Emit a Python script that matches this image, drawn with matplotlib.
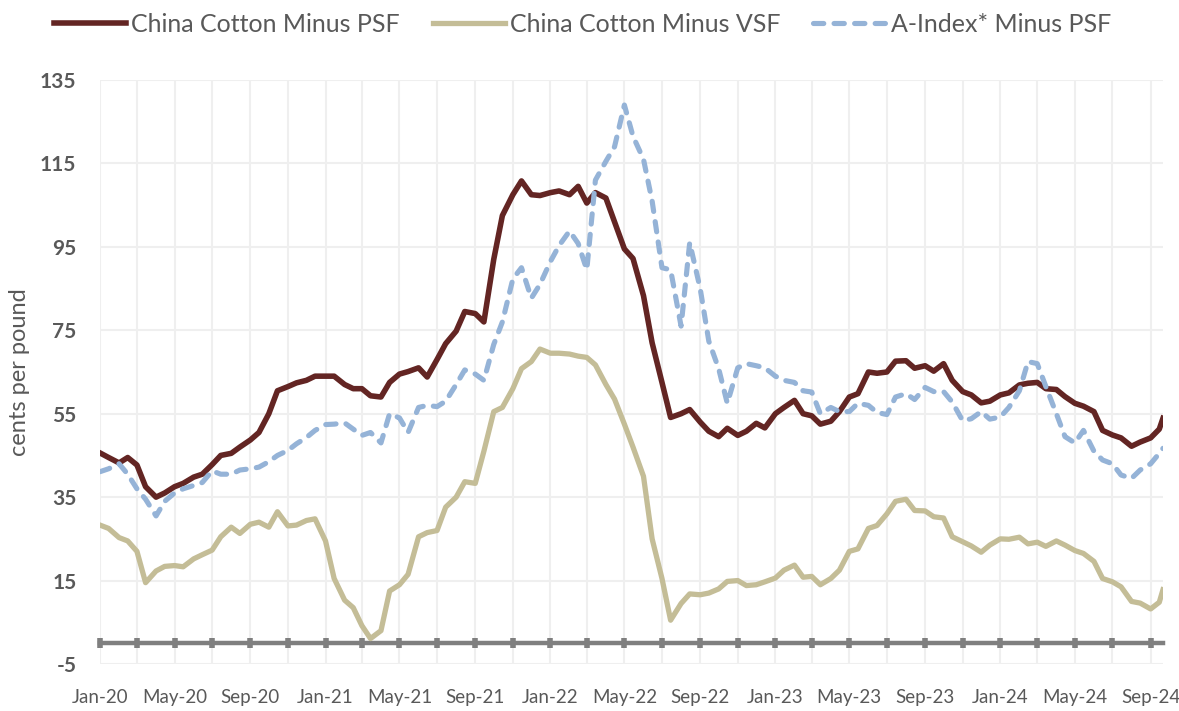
import pandas as pd
import matplotlib.pyplot as plt
import matplotlib.dates as mdates

plt.rcParams['font.family'] = ['Lato', 'DejaVu Sans']
plt.rcParams['axes.unicode_minus'] = False

# semi-monthly readings, Jan 2020 - Sep 2024
dates = list(pd.date_range('2020-01-01', '2024-09-15', freq='SMS')) + [pd.Timestamp('2024-09-21')]

psf = [45.6, 44.5, 43.2, 44.5, 42.7, 37.5, 35.0, 36.0, 37.5, 38.3,
       39.8, 40.5, 42.8, 45.0, 45.5, 47.0, 48.7, 50.5, 55.0, 60.5,
       61.5, 62.4, 63.0, 64.0, 64.0, 64.0, 62.0, 61.0, 61.0, 59.3,
       59.0, 62.5, 64.5, 65.1, 66.0, 63.8, 68.0, 71.8, 74.8, 79.5,
       79.0, 77.0, 92.0, 102.5, 107.5, 110.8, 107.5, 107.3, 108.0, 108.4,
       107.5, 109.5, 105.5, 108.0, 106.7, 101.0, 94.5, 92.2, 83.3, 72.0,
       62.5, 54.1, 55.0, 56.0, 53.0, 50.8, 49.5, 51.5, 49.8, 50.8,
       52.7, 51.6, 55.0, 56.5, 58.2, 55.0, 54.5, 52.5, 53.2, 55.5,
       59.0, 59.8, 65.0, 64.7, 65.0, 67.6, 67.7, 65.9, 66.5, 65.2,
       67.0, 63.0, 60.3, 59.5, 57.6, 58.0, 59.5, 60.0, 61.9, 62.3,
       62.5, 61.0, 60.8, 59.1, 57.5, 56.8, 55.5, 51.0, 49.9, 49.2,
       47.2, 48.2, 49.2, 51.3, 53.9]

vsf = [28.3, 27.5, 25.3, 24.5, 22.0, 14.5, 17.3, 18.4, 18.6, 18.3,
       20.2, 21.2, 22.3, 25.5, 27.8, 26.3, 28.5, 29.0, 27.8, 31.5,
       28.1, 28.3, 29.4, 29.8, 24.5, 15.5, 10.3, 8.5, 4.2, 1.1,
       3.0, 12.5, 14.0, 16.5, 25.5, 26.5, 27.0, 32.6, 35.0, 38.7,
       38.3, 46.0, 55.5, 56.5, 61.0, 65.8, 67.5, 70.5, 69.5, 69.5,
       69.3, 68.8, 68.5, 66.7, 62.0, 58.5, 52.5, 47.0, 40.0, 25.0,
       15.5, 5.5, 9.5, 11.8, 11.6, 12.0, 13.0, 14.8, 15.0, 13.8,
       14.0, 14.7, 15.6, 17.5, 18.7, 15.8, 16.0, 14.0, 15.5, 17.5,
       22.0, 22.6, 27.5, 28.2, 31.0, 34.0, 34.5, 31.8, 31.7, 30.3,
       30.0, 25.5, 24.3, 23.3, 21.8, 23.5, 25.0, 24.9, 25.4, 23.8,
       24.2, 23.2, 24.5, 23.5, 22.2, 21.5, 19.6, 15.5, 14.7, 13.5,
       10.0, 9.6, 8.2, 9.8, 12.8]

a_index = [41.1, 41.8, 43.0, 40.5, 37.0, 34.5, 30.5, 34.0, 36.0, 37.0,
           37.8, 38.5, 41.3, 40.5, 40.5, 41.5, 41.8, 42.2, 43.5, 45.0,
           46.2, 47.8, 49.3, 51.0, 52.4, 52.5, 52.8, 51.3, 49.8, 50.5,
           48.0, 55.0, 54.0, 50.5, 56.5, 57.0, 56.7, 58.0, 62.0, 65.5,
           64.5, 63.0, 71.6, 77.0, 87.3, 90.0, 82.7, 86.0, 91.5, 95.3,
           98.8, 95.8, 89.5, 111.0, 115.5, 119.0, 129.0, 121.5, 116.0, 106.0,
           90.0, 89.5, 76.0, 96.0, 85.0, 72.4, 65.8, 57.5, 66.0, 67.0,
           66.5, 66.0, 64.0, 63.0, 62.5, 60.5, 60.2, 55.0, 56.5, 55.5,
           55.5, 57.5, 57.0, 55.3, 54.8, 59.0, 59.8, 58.4, 61.3, 60.3,
           60.3, 57.8, 53.3, 53.8, 55.5, 53.7, 54.2, 56.5, 60.5, 67.5,
           67.0, 61.5, 55.0, 49.5, 48.0, 51.0, 46.0, 43.9, 43.0, 40.3,
           39.5, 41.5, 43.0, 45.5, 46.7]

text_grey = '#595959'

fig = plt.figure(figsize=(11.79, 7.11), dpi=100)
ax = fig.add_axes([0.0848, 0.0661, 0.9016, 0.8214])

ax.plot(dates, psf, color='#632523', lw=4.0, zorder=3, label='China Cotton Minus PSF',
        solid_joinstyle='round')
ax.plot(dates, vsf, color='#C4BD97', lw=3.8, zorder=3, label='China Cotton Minus VSF',
        solid_joinstyle='round')
ax.plot(dates, a_index, color='#95B3D7', lw=3.7, zorder=3, dashes=(2.0, 2.0),
        dash_capstyle='round', label='A-Index* Minus PSF')

ax.set_ylim(-5, 135)
ax.set_yticks(range(-5, 136, 20))
ax.set_xlim(dates[0], dates[-1])

# gridlines every two months, month labels every four
ax.xaxis.set_major_locator(mdates.MonthLocator(bymonth=[1, 5, 9]))
ax.xaxis.set_minor_locator(mdates.MonthLocator(bymonth=[3, 7, 11]))
ax.grid(which='both', color='#EFEFEF', lw=1.5)
ax.set_axisbelow(True)

for side in ['top', 'right', 'left']:
    ax.spines[side].set_visible(False)
ax.spines['bottom'].set_position(('data', 0))
ax.spines['bottom'].set_color('#7F7F7F')
ax.spines['bottom'].set_linewidth(3.2)
ax.tick_params(axis='x', which='both', direction='inout', length=6.5, width=4.0,
               color='#7F7F7F', labelbottom=False)
ax.tick_params(axis='y', length=0, pad=17, labelsize=15, labelcolor=text_grey)
for t in ax.get_yticklabels():
    t.set_fontweight('bold')

# month labels along the bottom edge
ax_lab = ax.twiny()
ax_lab.set_xlim(ax.get_xlim())
ax_lab.xaxis.set_ticks_position('bottom')
ax_lab.xaxis.set_major_locator(mdates.MonthLocator(bymonth=[1, 5, 9]))
ax_lab.xaxis.set_major_formatter(mdates.DateFormatter('%b-%y'))
ax_lab.tick_params(axis='x', length=0, pad=18, labelsize=13.5, labelcolor=text_grey)
for s in ax_lab.spines.values():
    s.set_visible(False)

fig.text(20 / 1179, 1 - 372 / 711, 'cents per pound', rotation=90, ha='center',
         va='center', fontsize=17, color=text_grey)

fig.legend(loc='center', bbox_to_anchor=(0.494, 1 - 24 / 711), ncol=3, frameon=False,
           fontsize=18, handlelength=2.9, handletextpad=0.2, columnspacing=1.3,
           labelcolor=text_grey)

fig.savefig('out.png', dpi=100)
